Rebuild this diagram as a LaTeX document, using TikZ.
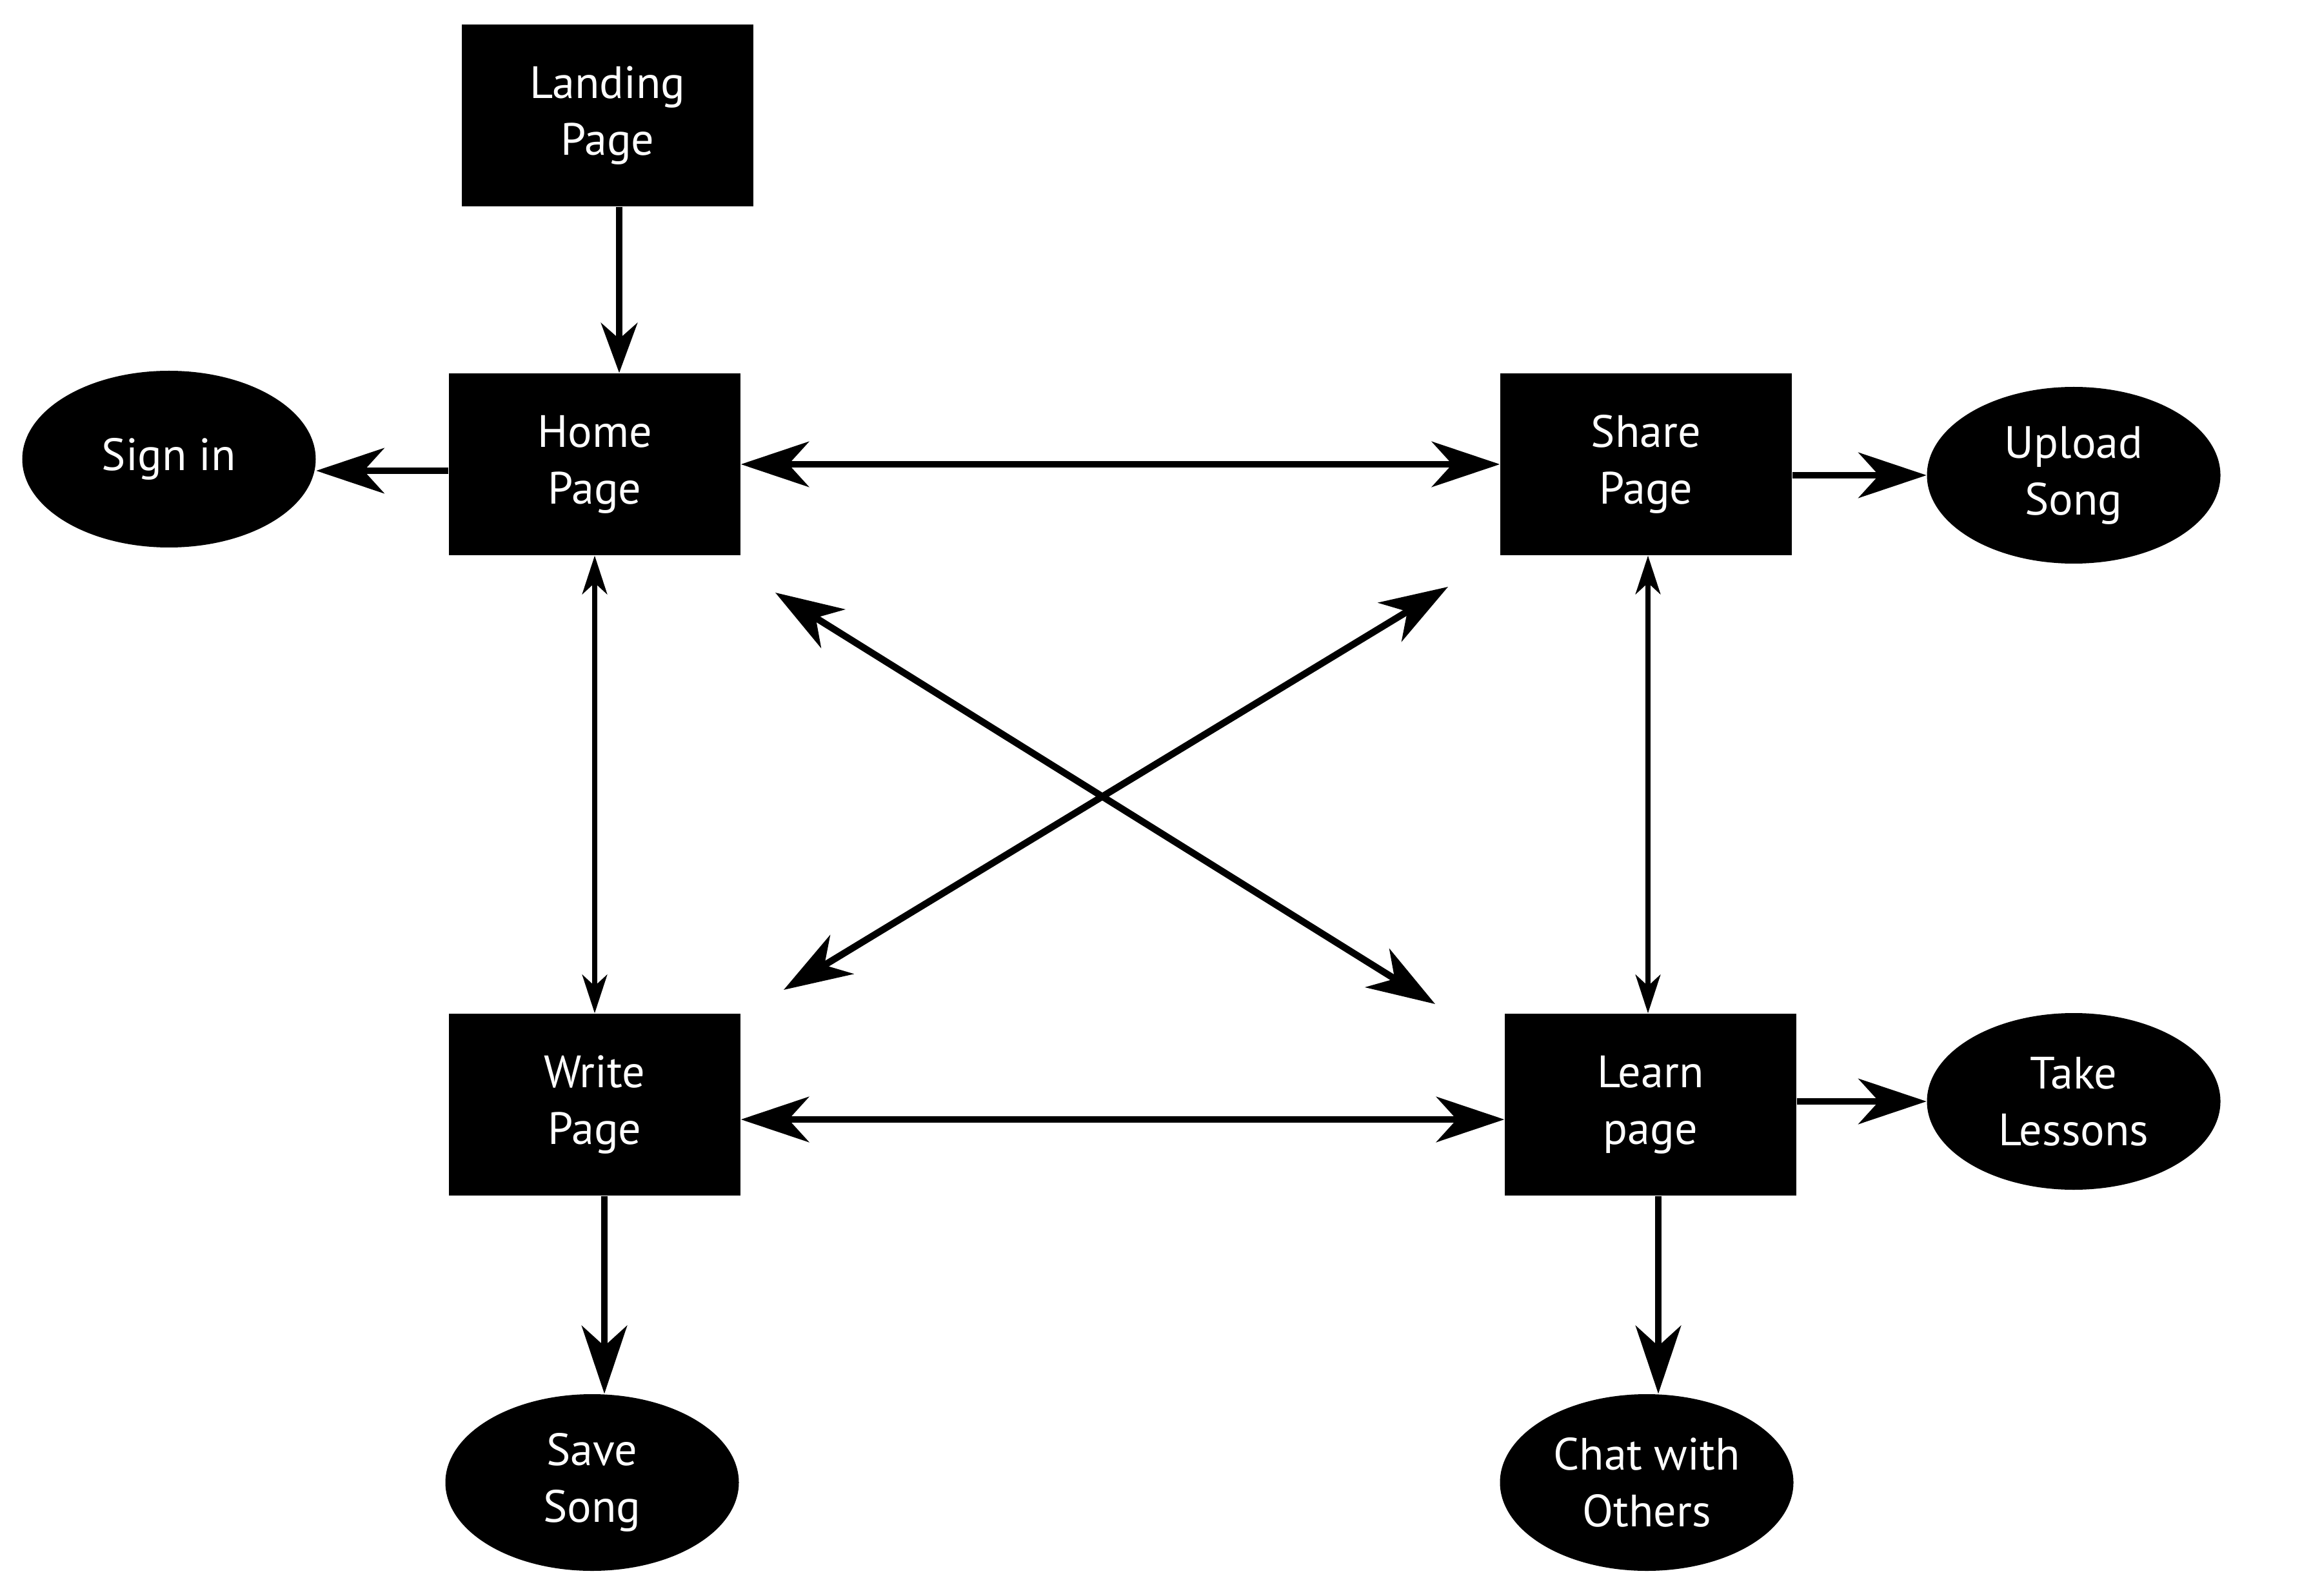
\documentclass[tikz,border=0pt]{standalone}
\usepackage{fontspec}
\setmainfont{PT Sans}
\usetikzlibrary{arrows.meta,shapes.geometric}

\begin{document}
\begin{tikzpicture}[
  pagebox/.style={rectangle,fill=black,text=white,minimum width=4.52cm,minimum height=2.82cm,
    align=center,font=\fontsize{20}{25}\selectfont},
  taskbox/.style={ellipse,fill=black,text=white,minimum width=4.55cm,minimum height=2.74cm,
    inner sep=0pt,align=center,font=\fontsize{20}{25}\selectfont},
  link/.style={line width=3pt},
  thinlink/.style={line width=2.2pt},
  bigtip/.tip={Stealth[length=30pt,width=20pt,inset=9pt]},
  midtip/.tip={Stealth[length=22pt,width=16pt,inset=7pt]},
  smalltip/.tip={Stealth[length=17pt,width=11pt,inset=5pt]}]
  \useasboundingbox (0,0) rectangle (36,-24.75);

  \node[pagebox] (landing) at (9.42,-1.79) {Landing\\Page};
  \node[pagebox] (home) at (9.22,-7.20) {Home\\Page};
  \node[pagebox] (share) at (25.52,-7.20) {Share\\Page};
  \node[pagebox] (write) at (9.22,-17.13) {Write\\Page};
  \node[pagebox] (learn) at (25.59,-17.13) {Learn\\page};

  \node[taskbox] (signin) at (2.62,-7.12) {Sign in};
  \node[taskbox] (upload) at (32.15,-7.37) {Upload\\Song};
  \node[taskbox] (take) at (32.15,-17.08) {Take\\Lessons};
  \node[taskbox] (save) at (9.18,-22.99) {Save\\Song};
  \node[taskbox] (chat) at (25.53,-22.99) {Chat with\\Others};

  \coordinate (hl1) at (12.02,-9.19);
  \coordinate (hl2) at (22.25,-15.57);
  \coordinate (sw1) at (22.45,-9.10);
  \coordinate (sw2) at (12.15,-15.35);

  \draw[link,-midtip] ([xshift=1.8mm]landing.south) -- ([xshift=1.8mm]landing.south |- home.north);
  \draw[link,-bigtip] ([yshift=-1mm]home.west) -- ([yshift=-1mm]home.west -| signin.east);
  \draw[link,bigtip-bigtip] (home.east) -- (share.west);
  \draw[link,-bigtip] (share.east |- upload.west) -- (upload.west);
  \draw[thinlink,smalltip-smalltip] (home.south) -- (write.north);
  \draw[thinlink,smalltip-smalltip] ([xshift=0.3mm]share.south) -- ([xshift=0.3mm]share.south |- learn.north);
  \draw[link,bigtip-bigtip] (hl1) -- (hl2);
  \draw[link,bigtip-bigtip] (sw1) -- (sw2);
  \draw[link,bigtip-bigtip] ([yshift=-2.3mm]write.east) -- ([yshift=-2.3mm]learn.west);
  \draw[link,-bigtip] (learn.east |- take.west) -- (take.west);
  \draw[link,-bigtip] ([xshift=1.5mm]write.south) -- ([xshift=1.5mm]write.south |- save.north);
  \draw[link,-bigtip] ([xshift=1.2mm]learn.south) -- ([xshift=1.2mm]learn.south |- chat.north);
\end{tikzpicture}
\end{document}
